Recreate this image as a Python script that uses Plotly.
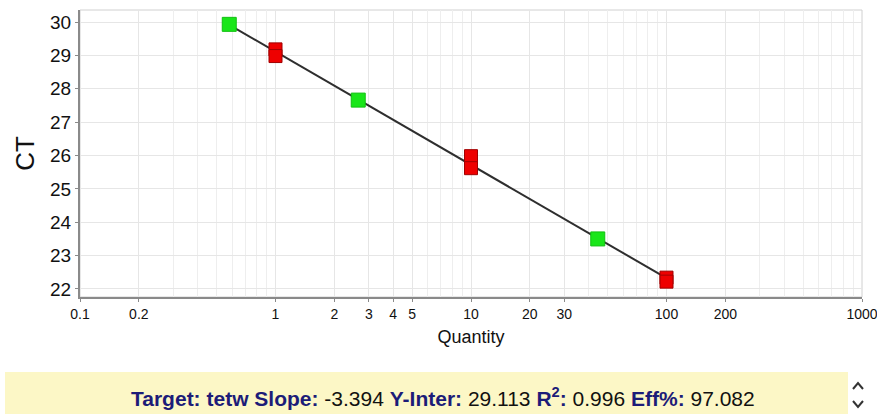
import plotly.graph_objects as go
import numpy as np

# Standard curve data (red = standards, green = unknowns)
std_qty = [1, 1, 10, 10, 100, 100]
std_ct = [29.18, 28.98, 25.98, 25.62, 22.34, 22.22]
unk_qty = [0.58, 2.65, 44.5]
unk_ct = [29.93, 27.66, 23.50]

# Regression results shown in the summary bar
target = "tetw"
slope = -3.394
y_inter = 29.113
r2 = 0.996
eff = 97.082

x_tickvals = [0.1, 0.2, 1, 2, 3, 4, 5, 10, 20, 30, 100, 200, 1000]
x_ticktext = ["0.1", "0.2", "1", "2", "3", "4", "5", "10", "20", "30", "100", "200", "1000"]
y_tickvals = [22, 23, 24, 25, 26, 27, 28, 29, 30]

W, H = 877, 414
ML, MR, MT, MB = 80, 15, 10, 117
PW, PH = W - ML - MR, H - MT - MB


def px(x):
    return (x - ML) / PW


def py(y):
    return (H - MB - y) / PH


FONT = "Arial, Liberation Sans, sans-serif"

fig = go.Figure()

# fitted line spanning the plotted quantities
all_q = std_qty + unk_qty
line_q = np.array([min(all_q), max(all_q)])
line_ct = y_inter + slope * np.log10(line_q)
fig.add_trace(go.Scatter(x=line_q, y=line_ct, mode="lines",
                         line=dict(color="#2e2e2e", width=2),
                         hoverinfo="skip", showlegend=False))

fig.add_trace(go.Scatter(x=unk_qty, y=unk_ct, mode="markers",
                         marker=dict(symbol="square", size=14, color="#19e619",
                                     line=dict(color="#12c012", width=1)),
                         showlegend=False))
fig.add_trace(go.Scatter(x=std_qty, y=std_ct, mode="markers",
                         marker=dict(symbol="square", size=13, color="#ee0000",
                                     line=dict(color="#a00000", width=1)),
                         showlegend=False))

minor_vals = [m * 10 ** e for e in range(-1, 3) for m in range(1, 10)] + [1000]

fig.update_xaxes(type="log", range=[-1, 3], automargin=False,
                 tickvals=x_tickvals, ticktext=x_ticktext,
                 ticklabeloverflow="allow",
                 tickfont=dict(size=14, color="#111", family=FONT),
                 showgrid=True, gridcolor="#e6e6e6", gridwidth=1,
                 minor=dict(tickvals=minor_vals, showgrid=True, gridcolor="#eeeeee",
                            ticks=""),
                 showline=True, linecolor="#8a8a8a", linewidth=2,
                 ticks="outside", ticklen=3, tickcolor="#8a8a8a",
                 zeroline=False,
                 title=dict(text="Quantity", font=dict(size=18, color="#111", family=FONT),
                            standoff=10))
fig.update_yaxes(range=[21.76, 30.36], tickvals=y_tickvals, automargin=False,
                 ticklabeloverflow="allow",
                 tickfont=dict(size=19, color="#111", family=FONT),
                 showgrid=True, gridcolor="#e6e6e6", gridwidth=1,
                 showline=True, linecolor="#8a8a8a", linewidth=2,
                 ticks="outside", ticklen=3, tickcolor="#8a8a8a",
                 zeroline=False,
                 title=dict(text="CT", font=dict(size=26, color="#111", family=FONT),
                            standoff=8))

shapes = [
    # light frame on top / right of plot area
    dict(type="rect", xref="paper", yref="paper", x0=0, x1=1, y0=0, y1=1,
         line=dict(color="#d0d0d0", width=1), layer="below"),
    # summary bar
    dict(type="rect", xref="paper", yref="paper",
         x0=px(5), x1=px(848), y0=py(414), y1=py(372),
         fillcolor="#fcf7c6", line=dict(width=0), layer="below"),
]

# scroll chevrons at right end of summary bar
def chevron(cx, cy, up):
    d = -1 if up else 1
    pts = [(cx - 5, cy - 3 * d), (cx, cy + 3 * d), (cx + 5, cy - 3 * d)]
    path = "M " + " L ".join(f"{px(a)},{py(b)}" for a, b in pts)
    return dict(type="path", xref="paper", yref="paper", path=path,
                line=dict(color="#333", width=2))

shapes.append(chevron(858, 386, True))
shapes.append(chevron(858, 404, False))

lab = "color:#1c1c78"
summary = (f"<b><span style='{lab}'>Target:</span></b> <b><span style='{lab}'>{target}</span></b> "
           f"<b><span style='{lab}'>Slope:</span></b> {slope:.3f} "
           f"<b><span style='{lab}'>Y-Inter:</span></b> {y_inter:.3f} "
           f"<b><span style='{lab}'>R<sup>2</sup>:</span></b> {r2:.3f} "
           f"<b><span style='{lab}'>Eff%:</span></b> {eff:.3f}")

fig.update_layout(
    width=W, height=H,
    margin=dict(l=ML, r=MR, t=MT, b=MB, autoexpand=False),
    paper_bgcolor="white", plot_bgcolor="white",
    shapes=shapes,
    annotations=[dict(text=summary, xref="paper", yref="paper",
                      x=px(443), y=py(397), xanchor="center", yanchor="middle",
                      showarrow=False, font=dict(size=21, color="#111", family=FONT))],
)

fig.write_html("out.html")
